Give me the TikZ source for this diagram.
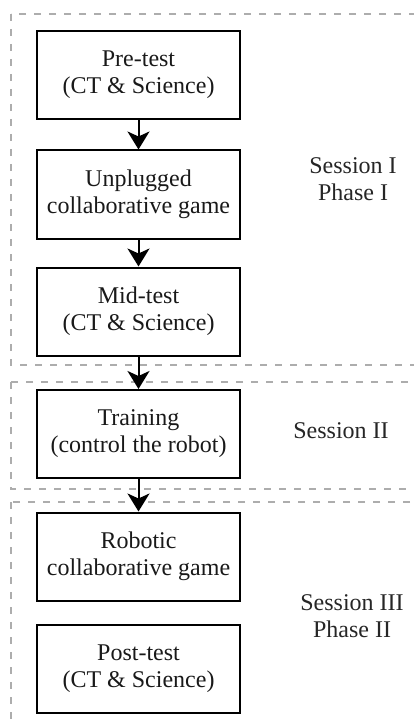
\documentclass[tikz,border=0pt]{standalone}
\usepackage{fontspec}
\setmainfont{Liberation Serif}
\usetikzlibrary{arrows.meta}
\begin{document}
\begin{tikzpicture}[x=1pt,y=-1pt,
 stepbox/.style={draw, line width=2pt, minimum width=203pt, minimum height=88pt, align=center, inner sep=0pt, font=\fontsize{24}{27}\selectfont, text=black!90},
 zone/.style={draw=black!32, dash pattern=on 7pt off 8pt, line width=1.5pt},
 lbl/.style={align=center, font=\fontsize{24}{27}\selectfont, text=black!85},
 arr/.style={line width=2pt, -{Stealth[length=18pt,width=22pt,inset=5pt]}}]
\useasboundingbox (0,0) rectangle (414,727);
\draw[zone] (11,14) rectangle (440,365);
\draw[zone] (11,382) rectangle (440,489);
\draw[zone] (11,502) rectangle (440,760);

\node[stepbox] (b1) at (138.5,75) {Pre-test\\(CT \& Science)};
\node[stepbox] (b2) at (138.5,194.5) {Unplugged\\collaborative game};
\node[stepbox] (b3) at (138.5,311.5) {Mid-test\\(CT \& Science)};
\node[stepbox] (b4) at (138.5,434) {Training\\(control the robot)};
\node[stepbox] (b5) at (138.5,556.5) {Robotic\\collaborative game};
\node[stepbox] (b6) at (138.5,669) {Post-test\\(CT \& Science)};

\draw[arr] (b1.south) -- (b2.north);
\draw[arr] (b2.south) -- (b3.north);
\draw[arr] (b3.south) -- (b4.north);
\draw[arr] (b4.south) -- (b5.north);

\node[lbl] (s1) at (353,179) {Session I\\Phase I};
\node[lbl] (s2) at (341,431) {Session II};
\node[lbl] (s3) at (352,616) {Session III\\Phase II};
\end{tikzpicture}
\end{document}
